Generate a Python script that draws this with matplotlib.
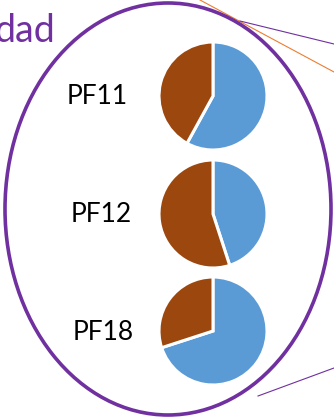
import matplotlib.pyplot as plt
from matplotlib.patches import Ellipse

# share of each product line (blue first, brown second), in percent
PRODUCTS = ["PF11", "PF12", "PF18"]
SHARE_BLUE = [58, 45, 70]
SHARE_BROWN = [42, 55, 30]

BLUE = "#5B9BD5"
BROWN = "#9C470E"
PURPLE = "#7030A0"
ORANGE = "#ED7D31"

W, H = 334, 418
FONT = ["Lato", "DejaVu Sans"]

fig = plt.figure(figsize=(W / 100, H / 100), dpi=100)
ax = fig.add_axes([0, 0, 1, 1])

# pixel-like coordinates, y measured upward
pie_x = 213
pie_y = [H - 96, H - 214, H - 331]
label_x = [97, 101, 103]
label_y = [H - 97, H - 215, H - 332]
radius = 54

for i, name in enumerate(PRODUCTS):
    ax.pie(
        [SHARE_BLUE[i], SHARE_BROWN[i]],
        colors=[BLUE, BROWN],
        startangle=90,
        counterclock=False,
        center=(pie_x, pie_y[i]),
        radius=radius,
        wedgeprops=dict(edgecolor="white", linewidth=2.2),
    )
    ax.text(label_x[i], label_y[i], name, ha="center", va="center",
            fontsize=19, family=FONT, color="black")

# big outline around the group
ax.add_patch(Ellipse((168, H - 209), 326, 412, fill=False,
                     edgecolor=PURPLE, linewidth=2.6, zorder=5))

# connector lines running off to the right
ax.plot([200, 334], [H - 0, H - 72], color=ORANGE, linewidth=0.8, zorder=4)
ax.plot([240, 334], [H - 21, H - 44], color=PURPLE, linewidth=0.8, zorder=4)
ax.plot([258, 334], [H - 396, H - 368], color=PURPLE, linewidth=0.8, zorder=4)

ax.text(55, H - 42, "dad", ha="right", va="baseline", fontsize=27,
        family=FONT, color=PURPLE)

ax.set_xlim(0, W)
ax.set_ylim(0, H)
ax.set_aspect("equal")
ax.axis("off")

fig.savefig("out.png", dpi=100)
